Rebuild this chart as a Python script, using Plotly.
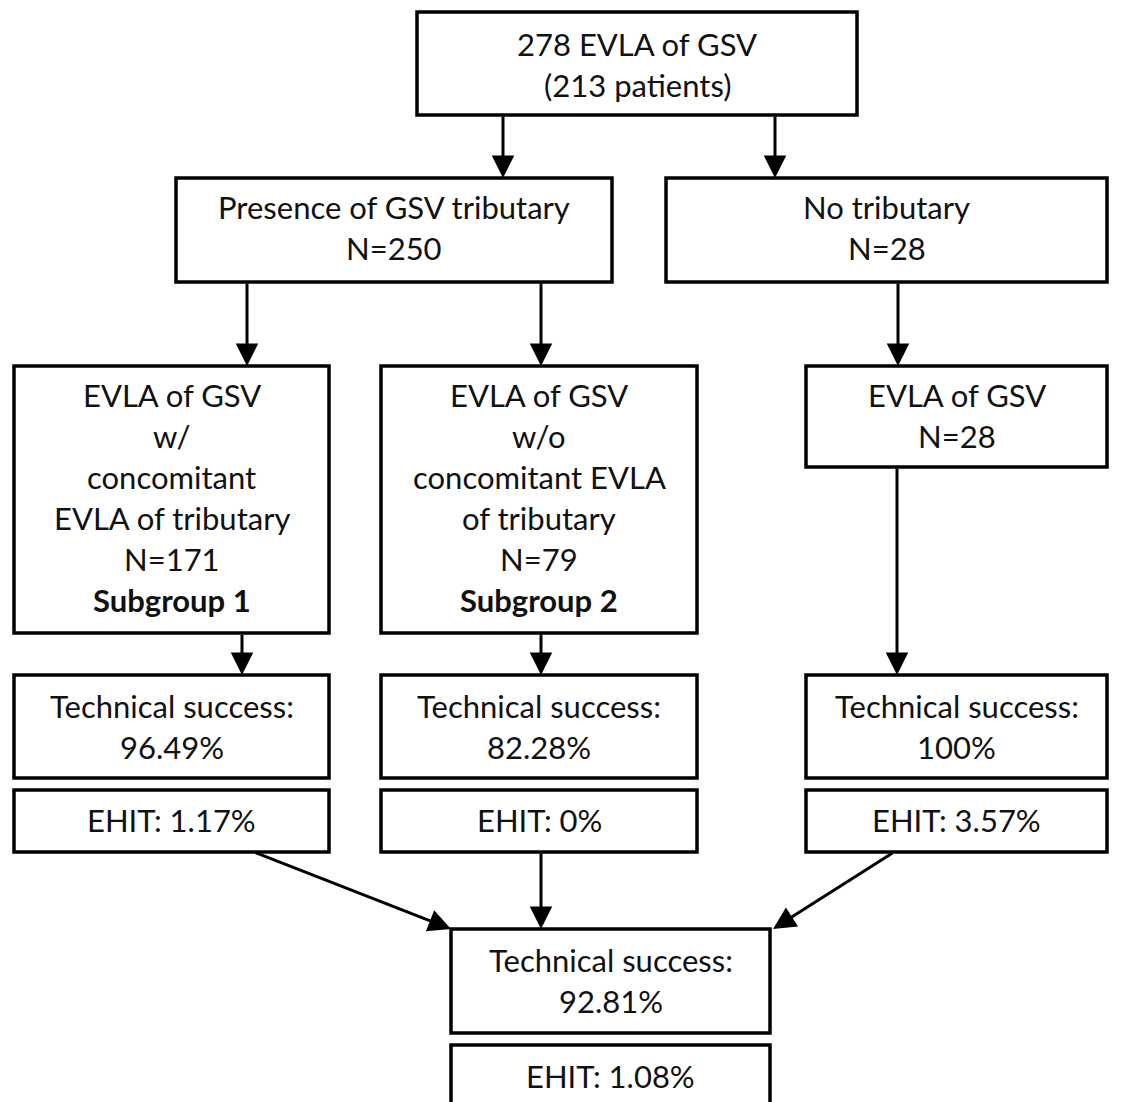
import plotly.graph_objects as go

W, H = 1129, 1102
OFF = 8  # page body margin

# ---- content ----
box_names = ["root", "trib", "notrib", "sub1", "sub2", "evla28",
             "ts1", "ts2", "ts3", "eh1", "eh2", "eh3", "tsall", "ehall"]
box_text = [
    ["278 EVLA of GSV", "(213 patients)"],
    ["Presence of GSV tributary", "N=250"],
    ["No tributary", "N=28"],
    ["EVLA of GSV", "w/", "concomitant", "EVLA of tributary", "N=171", "<b>Subgroup 1</b>"],
    ["EVLA of GSV", "w/o", "concomitant EVLA", "of tributary", "N=79", "<b>Subgroup 2</b>"],
    ["EVLA of GSV", "N=28"],
    ["Technical success:", "96.49%"],
    ["Technical success:", "82.28%"],
    ["Technical success:", "100%"],
    ["EHIT: 1.17%"],
    ["EHIT: 0%"],
    ["EHIT: 3.57%"],
    ["Technical success:", "92.81%"],
    ["EHIT: 1.08%"],
]

# ---- geometry (pixels, y downward) ----
box_x0 = [417, 176, 666, 14, 381, 806, 14, 381, 806, 14, 381, 806, 451, 451]
box_x1 = [857, 612, 1107, 329, 697, 1107, 329, 697, 1107, 329, 697, 1107, 770, 770]
box_y0 = [12, 178, 178, 366, 366, 366, 675, 675, 675, 790, 790, 790, 929, 1045]
box_y1 = [115, 282, 282, 633, 633, 467, 778, 778, 778, 852, 852, 852, 1033, 1115]
text_y0 = [44, 207, 207, 395, 395, 395, 706, 706, 706, 820, 820, 820, 960, 1076]
line_gap = 41

arrow_from = [(503, 115), (775, 115), (247, 282), (541, 282), (898, 282),
              (242, 633), (541, 633), (897, 467), (254, 852), (541, 852), (894, 852)]
arrow_to = [(503, 178), (775, 178), (247, 366), (541, 366), (898, 366),
            (242, 675), (541, 675), (897, 675), (451, 929), (541, 929), (773, 929)]

FONT = "Lato"
FSIZE = 31

fig = go.Figure()
fig.add_trace(go.Scatter(x=[OFF, W + OFF], y=[OFF, H + OFF], mode="markers",
                         marker=dict(opacity=0), hoverinfo="skip", showlegend=False))

shapes = []
annotations = []
for i in range(len(box_names)):
    shapes.append(dict(type="rect", xref="x", yref="y",
                       x0=box_x0[i], x1=box_x1[i], y0=box_y0[i], y1=box_y1[i],
                       line=dict(color="black", width=3.5), fillcolor="white", layer="below"))
    cx = (box_x0[i] + box_x1[i]) / 2
    for j, t in enumerate(box_text[i]):
        annotations.append(dict(x=cx, y=text_y0[i] + j * line_gap, xref="x", yref="y",
                                text=t, showarrow=False, xanchor="center", yanchor="middle",
                                font=dict(family=FONT, size=FSIZE, color="#111111")))

for (x0, y0), (x1, y1) in zip(arrow_from, arrow_to):
    annotations.append(dict(x=x1, y=y1, ax=x0, ay=y0, xref="x", yref="y",
                            axref="x", ayref="y", text="", showarrow=True,
                            arrowhead=2, arrowsize=1.5, arrowwidth=3,
                            arrowcolor="black", standoff=0, startstandoff=0))

fig.update_layout(
    width=W, height=H, margin=dict(l=0, r=0, t=0, b=0),
    plot_bgcolor="white", paper_bgcolor="white",
    xaxis=dict(range=[OFF, W + OFF], visible=False, fixedrange=True),
    yaxis=dict(range=[H + OFF, OFF], visible=False, fixedrange=True),
    shapes=shapes, annotations=annotations, showlegend=False,
)
fig.write_html("out.html")
